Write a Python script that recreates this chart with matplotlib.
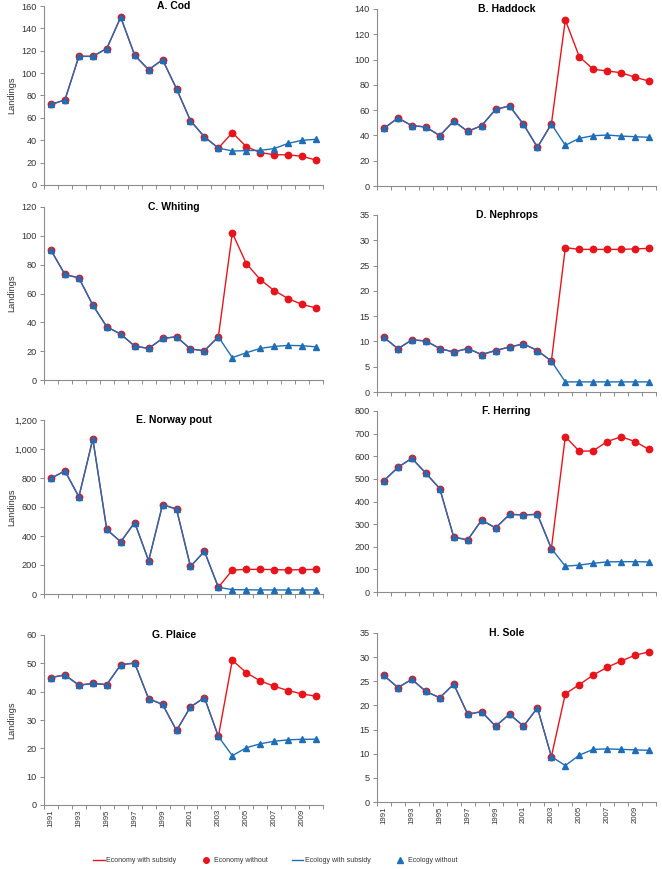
import matplotlib.pyplot as plt
from matplotlib.ticker import MultipleLocator, StrMethodFormatter, FixedLocator, NullFormatter
from matplotlib.lines import Line2D

plt.rcParams['font.family'] = ['Liberation Sans', 'DejaVu Sans']

years = list(range(1991, 2011))
year_labels = [str(y) if (y - 1991) % 2 == 0 else '' for y in years]

titles = ['A. Cod', 'B. Haddock', 'C. Whiting', 'D. Nephrops',
          'E. Norway pout', 'F. Herring', 'G. Plaice', 'H. Sole']

# history 1991-2003 is shared, scenarios 2004-2010
cod_hist = [72, 76, 115, 115, 122, 150, 116, 103, 112, 86, 57.5, 43, 33]
cod_econ = [46.8, 34.3, 29, 27, 27, 25.6, 22.3]
cod_eco = [30.4, 30.7, 31, 32.5, 37.2, 40, 40.8]

haddock_hist = [45.6, 53.8, 47.7, 46.7, 39.8, 51.4, 43.2, 47.7, 60.6, 63.3, 48.8, 30.6, 49]
haddock_econ = [131.3, 102.3, 92.3, 91, 89.6, 86, 83]
haddock_eco = [32.2, 37.7, 39.8, 40.3, 39.5, 39, 38.5]

whiting_hist = [90, 73.2, 70.8, 51.9, 36.9, 31.8, 23.5, 21.9, 28.8, 30, 21.5, 20.3, 30]
whiting_econ = [102, 80.8, 69.7, 62, 56.5, 52.4, 50]
whiting_eco = [15.5, 18.9, 21.9, 23.3, 24, 23.8, 23]

nephrops_hist = [10.8, 8.55, 10.3, 10.1, 8.6, 7.9, 8.6, 7.4, 8.2, 8.9, 9.5, 8.2, 6.1]
nephrops_econ = [28.55, 28.2, 28.2, 28.2, 28.2, 28.3, 28.4]
nephrops_eco = [2.0, 2.0, 2.0, 2.0, 2.0, 2.0, 2.0]

pout_hist = [798, 849, 670, 1069, 445, 360, 493, 229, 617, 585, 190, 294, 46]
pout_econ = [165, 170, 170, 168, 166, 168, 170]
pout_eco = [30, 29, 28, 28, 28, 28, 28]

herring_hist = [492, 551, 591, 525, 457, 243, 230, 318, 283, 343, 341, 343, 192]
herring_econ = [687, 622, 624, 665, 686, 665, 630]
herring_eco = [114, 119, 127, 133, 134, 134, 133]

plaice_hist = [45, 45.9, 42.3, 42.9, 42.5, 49.5, 50.1, 37.5, 35.5, 26.3, 34.6, 37.9, 24.2]
plaice_econ = [51.1, 46.7, 43.8, 41.9, 40.4, 39.2, 38.4]
plaice_eco = [17.4, 20.2, 21.6, 22.5, 23, 23.2, 23.2]

sole_hist = [26.2, 23.7, 25.4, 22.9, 21.6, 24.4, 18.2, 18.7, 15.7, 18.2, 15.7, 19.5, 9.4]
sole_econ = [22.4, 24.3, 26.3, 27.9, 29.2, 30.4, 31.1]
sole_eco = [7.55, 9.7, 10.9, 11.0, 10.9, 10.8, 10.7]

hist = [cod_hist, haddock_hist, whiting_hist, nephrops_hist,
        pout_hist, herring_hist, plaice_hist, sole_hist]
econ = [cod_econ, haddock_econ, whiting_econ, nephrops_econ,
        pout_econ, herring_econ, plaice_econ, sole_econ]
eco = [cod_eco, haddock_eco, whiting_eco, nephrops_eco,
       pout_eco, herring_eco, plaice_eco, sole_eco]

ymax = [160, 140, 120, 35, 1200, 800, 60, 35]
ystep = [20, 20, 20, 5, 200, 100, 10, 5]

RED = '#e8141c'
BLUE = '#1f6db4'
GREY = '#8c8c8c'

W, H = 662, 869
fig = plt.figure(figsize=(W / 100, H / 100), dpi=100)

# pixel boxes (left, top, right, bottom)
boxes = [(44, 6, 323, 185), (377, 9, 656, 186),
         (44, 207, 323, 380), (377, 215, 656, 392),
         (44, 420, 323, 594), (377, 411, 656, 592),
         (44, 635, 323, 805), (377, 633, 656, 802)]

x = list(range(len(years)))

for i, (l, t, r, b) in enumerate(boxes):
    ax = fig.add_axes([l / W, 1 - b / H, (r - l) / W, (b - t) / H])
    econ_full = hist[i] + econ[i]
    eco_full = hist[i] + eco[i]
    ax.plot(x, econ_full, color=RED, lw=1.0, zorder=2)
    ax.plot(x, econ_full, 'o', color=RED, ms=4.6, mec=RED, zorder=3)
    ax.plot(x, eco_full, color=BLUE, lw=1.0, zorder=4)
    ax.plot(x, eco_full, '^', color=BLUE, ms=4.6, mec=BLUE, zorder=5)

    ax.set_xlim(-0.5, len(years) - 0.5)
    ax.set_ylim(0, ymax[i])
    ax.yaxis.set_major_locator(MultipleLocator(ystep[i]))
    ax.yaxis.set_major_formatter(StrMethodFormatter('{x:,.0f}'))

    ax.xaxis.set_major_locator(FixedLocator([k - 0.5 for k in range(len(years) + 1)]))
    ax.xaxis.set_major_formatter(NullFormatter())
    ax.xaxis.set_minor_locator(FixedLocator(x))
    if i >= 6:
        ax.set_xticklabels(year_labels, minor=True, rotation=90, fontsize=5.6, color='#333333')
    else:
        ax.xaxis.set_minor_formatter(NullFormatter())
    ax.tick_params(axis='x', which='minor', length=0, pad=3)
    ax.tick_params(axis='x', which='major', length=3, width=0.7, color=GREY)
    ax.tick_params(axis='y', length=3, width=0.7, color=GREY, labelsize=6.6,
                   labelcolor='#333333', pad=2)

    for s in ['top', 'right']:
        ax.spines[s].set_visible(False)
    for s in ['left', 'bottom']:
        ax.spines[s].set_color(GREY)
        ax.spines[s].set_linewidth(0.8)

    ax.text(0.465, 1.0, titles[i], transform=ax.transAxes, ha='center', va='center',
            fontsize=7.5, fontweight='bold')
    if i % 2 == 0:
        ax.set_ylabel('Landings', fontsize=6.6, color='#333333')
        ax.yaxis.set_label_coords(-0.1, 0.5)

handles = [Line2D([], [], color=RED, lw=1.0),
           Line2D([], [], ls='none', marker='o', color=RED, ms=4),
           Line2D([], [], color=BLUE, lw=1.0),
           Line2D([], [], ls='none', marker='^', color=BLUE, ms=4)]
labels = ['Economy with subsidy', 'Economy without', 'Ecology with subsidy', 'Ecology without']
fig.legend(handles, labels, loc='center left', bbox_to_anchor=(90 / W, 1 - 861 / H),
           ncol=4, frameon=False, fontsize=5.0, handlelength=1.6, handletextpad=0.25,
           columnspacing=3.5, labelcolor='#333333', borderpad=0)

fig.savefig('out.png', dpi=100)
